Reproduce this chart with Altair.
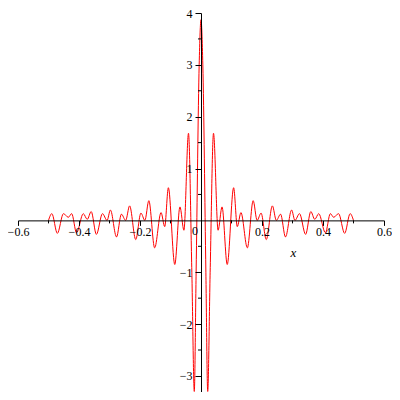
import altair as alt
import pandas as pd

# extrema / shape points (x, y)
curve_x = [-0.500, -0.489, -0.471, -0.451, -0.435, -0.424, -0.408, -0.386, -0.373, -0.360,
           -0.343, -0.323, -0.308, -0.297, -0.277, -0.261, -0.247, -0.234, -0.214, -0.197,
           -0.184, -0.171, -0.152, -0.131, -0.119, -0.107, -0.086, -0.069, -0.056, -0.041,
           -0.030, -0.022, -0.016, -0.006, 0.000,
           0.006, 0.016, 0.022, 0.030,
           0.041, 0.056, 0.069, 0.086, 0.107, 0.119, 0.131, 0.152, 0.171, 0.184,
           0.197, 0.214, 0.234, 0.247, 0.261, 0.277, 0.297, 0.308, 0.323, 0.343,
           0.360, 0.373, 0.386, 0.408, 0.424, 0.435, 0.451, 0.471, 0.489, 0.500]
curve_y = [0.00, 0.13, -0.25, 0.13, 0.06, 0.13, -0.24, 0.13, 0.02, 0.17,
           -0.27, 0.13, 0.00, 0.20, -0.32, 0.12, 0.00, 0.28, -0.37, 0.14,
           0.00, 0.38, -0.53, 0.15, -0.12, 0.63, -0.85, 0.26, -0.19, 1.68,
           -1.00, -3.30, -1.00, 3.00, 3.87,
           3.00, -1.00, -3.30, -1.00,
           1.68, -0.19, 0.26, -0.85, 0.63, -0.12, 0.15, -0.53, 0.38, 0.00,
           0.14, -0.37, 0.28, 0.00, 0.12, -0.32, 0.20, 0.00, 0.13, -0.27,
           0.17, 0.02, 0.13, -0.24, 0.13, 0.06, 0.13, -0.25, 0.13, 0.00]

x_major = [-0.6, -0.4, -0.2, 0.2, 0.4, 0.6]
x_minor = [-0.5, -0.3, -0.1, 0.1, 0.3, 0.5]
y_major = [-3, -2, -1, 1, 2, 3, 4]
y_minor = [-2.5, -1.5, -0.5, 0.5, 1.5, 2.5, 3.5]

X_DOMAIN = [-0.6, 0.6]
Y_DOMAIN = [-3.31, 4.0]
W, H = 366, 379

x0_px = W * (0 - X_DOMAIN[0]) / (X_DOMAIN[1] - X_DOMAIN[0])
y0_px = H * (Y_DOMAIN[1] - 0) / (Y_DOMAIN[1] - Y_DOMAIN[0])

df = pd.DataFrame({"x": curve_x, "y": curve_y})
xmin_df = pd.DataFrame({"v": x_minor})
ymin_df = pd.DataFrame({"v": y_minor})

FONT = "Liberation Serif"

xscale = alt.Scale(domain=X_DOMAIN, nice=False, zero=False)
yscale = alt.Scale(domain=Y_DOMAIN, nice=False, zero=False)

curve = alt.Chart(df).mark_line(color="#ff0000", strokeWidth=1, interpolate="monotone", clip=True).encode(
    x=alt.X("x:Q", scale=xscale,
            axis=alt.Axis(values=x_major, format=".1f", orient="bottom", offset=-(H - y0_px),
                          tickSize=5, tickColor="black", domainColor="black", labelColor="black",
                          labelFont=FONT, labelFontSize=12, labelPadding=1, labelAngle=0,
                          grid=False, zindex=1, title="x", titleFont=FONT, titleFontStyle="italic",
                          titleFontWeight="normal", titleFontSize=13, titleColor="black",
                          titleX=275, titleY=36, titleAlign="center", titleBaseline="alphabetic",
                          labelFlush=False, labelOverlap=False)),
    y=alt.Y("y:Q", scale=yscale,
            axis=alt.Axis(values=y_major, format="d", orient="left", offset=-x0_px,
                          tickSize=6, tickColor="black", domainColor="black", labelColor="black",
                          labelFont=FONT, labelFontSize=12, labelPadding=3,
                          grid=False, zindex=1, title=None, labelFlush=False, labelOverlap=False)),
)

xminor = alt.Chart(xmin_df).mark_rule(color="black", strokeWidth=1, y2Offset=3).encode(
    x=alt.X("v:Q", scale=xscale), y=alt.datum(0), y2=alt.datum(0)
)
yminor = alt.Chart(ymin_df).mark_rule(color="black", strokeWidth=1, x2Offset=-3).encode(
    y=alt.Y("v:Q", scale=yscale), x=alt.datum(0), x2=alt.datum(0)
)
zero_label = alt.Chart(pd.DataFrame({"t": ["0"]})).mark_text(
    font=FONT, fontSize=12, color="black", align="right", baseline="top", dx=-3, dy=6
).encode(x=alt.datum(0), y=alt.datum(0), text="t:N")

chart = alt.layer(curve, xminor, yminor, zero_label).properties(
    width=W, height=H,
    background="white",
    autosize=alt.AutoSizeParams(type="none"),
    padding={"left": 10, "top": 5, "right": 8, "bottom": 0},
).configure_view(strokeWidth=0, stroke="transparent")

chart.save("out.html", embed_options={"renderer": "svg", "actions": False})
